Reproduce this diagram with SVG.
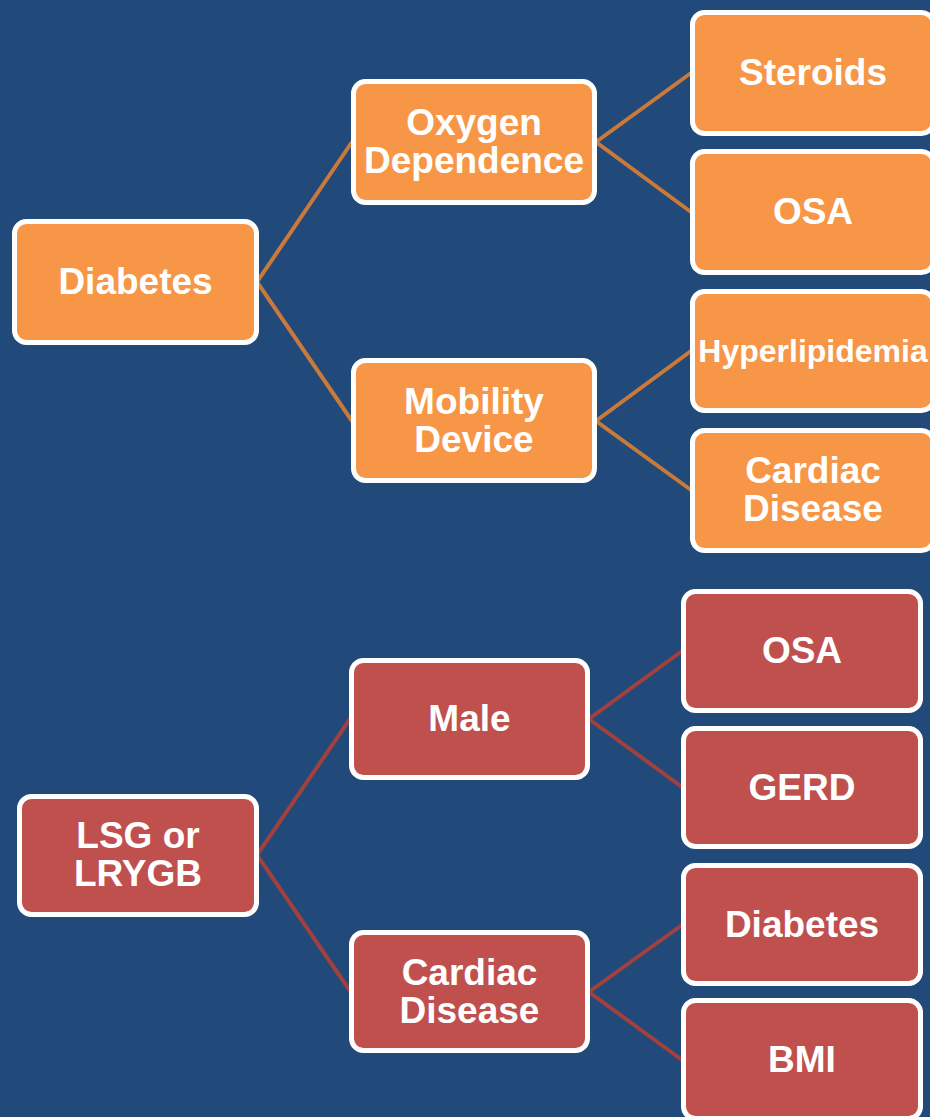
<svg xmlns="http://www.w3.org/2000/svg" width="930" height="1117" viewBox="0 0 930 1117">
<style>
.o{fill:#F79646;stroke:#FFFFFF;stroke-width:5}
.r{fill:#C0504D;stroke:#FFFFFF;stroke-width:5}
.t{fill:#FFFFFF;font-family:"Liberation Sans",Arial,sans-serif;font-weight:bold;font-size:37px;text-anchor:middle}
.co{stroke:#C97A3A;stroke-width:4;fill:none}
.cr{stroke:#A0413F;stroke-width:4;fill:none}
</style>
<rect x="0" y="0" width="930" height="1117" fill="#21497A"/>
<g id="connectors">
<polyline class="co" points="352,142 257,282 352,421"/>
<polyline class="co" points="691,73 596,142 691,212"/>
<polyline class="co" points="691,351 596,421 691,490"/>
<polyline class="cr" points="350,719 257,855 350,991"/>
<polyline class="cr" points="682,651 589,719 682,787"/>
<polyline class="cr" points="682,925 589,992 682,1060"/>
</g>
<g id="n-diabetes"><rect class="o" x="14.5" y="221.5" width="242" height="121" rx="12"/><text class="t" x="135.5" y="294">Diabetes</text></g>
<g id="n-oxygen"><rect class="o" x="353.5" y="81.5" width="241" height="121" rx="12"/><text class="t" x="474" y="135">Oxygen</text><text class="t" x="474" y="173">Dependence</text></g>
<g id="n-mobility"><rect class="o" x="353.5" y="360.5" width="241" height="120" rx="12"/><text class="t" x="474" y="414">Mobility</text><text class="t" x="474" y="452">Device</text></g>
<g id="n-steroids"><rect class="o" x="692.5" y="12.5" width="241" height="121" rx="12"/><text class="t" x="813" y="85">Steroids</text></g>
<g id="n-osa1"><rect class="o" x="692.5" y="151.5" width="241" height="121" rx="12"/><text class="t" x="813" y="224">OSA</text></g>
<g id="n-hyper"><rect class="o" x="692.5" y="291.5" width="241" height="119" rx="12"/><text class="t" x="813" y="362" style="font-size:32px">Hyperlipidemia</text></g>
<g id="n-cardiac1"><rect class="o" x="692.5" y="430.5" width="241" height="120" rx="12"/><text class="t" x="813" y="483">Cardiac</text><text class="t" x="813" y="521">Disease</text></g>
<g id="n-lsg"><rect class="r" x="19.5" y="796.5" width="237" height="118" rx="12"/><text class="t" x="138" y="848">LSG or</text><text class="t" x="138" y="886">LRYGB</text></g>
<g id="n-male"><rect class="r" x="351.5" y="660.5" width="236" height="117" rx="12"/><text class="t" x="469.5" y="731">Male</text></g>
<g id="n-cardiac2"><rect class="r" x="351.5" y="932.5" width="236" height="118" rx="12"/><text class="t" x="469.5" y="985">Cardiac</text><text class="t" x="469.5" y="1023">Disease</text></g>
<g id="n-osa2"><rect class="r" x="683.5" y="591.5" width="237" height="119" rx="12"/><text class="t" x="802" y="663">OSA</text></g>
<g id="n-gerd"><rect class="r" x="683.5" y="728.5" width="237" height="118" rx="12"/><text class="t" x="802" y="800">GERD</text></g>
<g id="n-diabetes2"><rect class="r" x="683.5" y="865.5" width="237" height="118" rx="12"/><text class="t" x="802" y="937">Diabetes</text></g>
<g id="n-bmi"><rect class="r" x="683.5" y="1000.5" width="237" height="118" rx="12"/><text class="t" x="802" y="1072">BMI</text></g>
</svg>
